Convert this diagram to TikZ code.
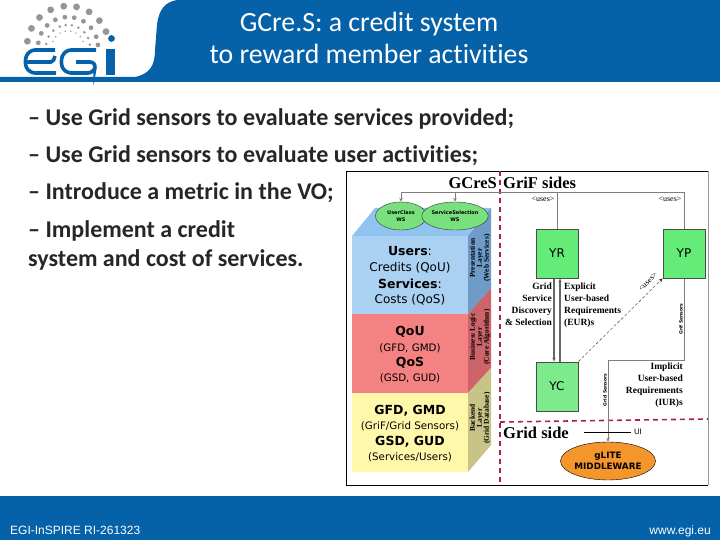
\documentclass[tikz,border=0pt]{standalone}
\usepackage{fontspec}
\setmainfont{Carlito}[Ligatures=NoCommon]
\newfontfamily\cubefont{DejaVu Sans}
\newfontfamily\notefont{Liberation Serif}
\newfontfamily\footfont{Liberation Sans}
\usetikzlibrary{arrows.meta,shapes.geometric,positioning}
\pgfdeclarelayer{front}
\pgfsetlayers{main,front}
\definecolor{egiblue}{RGB}{5,97,168}
\definecolor{dotgray}{RGB}{150,150,150}
\definecolor{linegray}{RGB}{125,125,125}
\definecolor{wsgreen}{RGB}{120,225,125}
\definecolor{yrgreen}{RGB}{100,235,120}
\definecolor{ycgreen}{RGB}{125,235,140}
\definecolor{glorange}{RGB}{245,150,45}
\definecolor{dashred}{RGB}{170,35,70}
\definecolor{cubetop}{RGB}{145,195,240}
\definecolor{cubeblue}{RGB}{170,208,242}
\definecolor{cubered}{RGB}{245,130,130}
\definecolor{cubeyellow}{RGB}{255,247,170}
\definecolor{sideblue}{RGB}{110,155,200}
\definecolor{sidered}{RGB}{205,100,105}
\definecolor{sideyellow}{RGB}{200,195,135}
\tikzset{
  titletext/.style={text=white, font=\fontsize{27.8}{32}\selectfont, align=center},
  bodytext/.style={anchor=base west, inner sep=0, text=black!85, font=\bfseries\fontsize{24}{29}\selectfont, align=left},
  foottext/.style={text=white, inner sep=0, font=\footfont\fontsize{12}{14}\selectfont},
  cubehead/.style={font=\cubefont\bfseries\fontsize{12.5}{16}\selectfont},
  cubesub/.style={font=\cubefont\fontsize{12}{15}\selectfont},
  cubesmall/.style={font=\cubefont\fontsize{10.3}{12}\selectfont},
  sidetext/.style={rotate=90, align=center, inner sep=0, font=\notefont\bfseries\fontsize{7.4}{7}\selectfont},
  sensortext/.style={rotate=90, inner sep=0, font=\cubefont\bfseries\fontsize{4.5}{6}\selectfont},
  notetext/.style={inner sep=0, font=\notefont\bfseries\fontsize{9.5}{11.9}\selectfont},
  greenbox/.style={draw=black!70, thick, minimum width=42, minimum height=49, inner sep=0, font=\cubefont\fontsize{12}{14}\selectfont},
  wsnode/.style={ellipse, draw=black!80, fill=wsgreen, minimum width=51, minimum height=28, inner sep=0, align=center, font=\cubefont\bfseries\fontsize{5}{7}\selectfont},
  sidehead/.style={inner sep=0, font=\notefont\bfseries\fontsize{16.5}{18}\selectfont},
  useslabel/.style={inner sep=0, font=\notefont\fontsize{8}{8}\selectfont},
  grayline/.style={draw=linegray, line width=0.9},
  redline/.style={draw=dashred, line width=1.6, dash pattern=on 5 off 4},
}
\begin{document}
\begin{tikzpicture}[x=1pt, y=-1pt]
  \useasboundingbox (0,0) rectangle (720,540);

  % Header
  \fill[egiblue] (0,77) -- (135,77) .. controls (150,74) and (155,65) .. (155,50)
     -- (157,25) .. controls (159,8) and (166,2) .. (177,0) -- (720,0) -- (720,82) -- (0,82) -- cycle;
  \fill[egiblue] (0,496) rectangle (720,540);

  % Logo dots
  \foreach \ang in {172,153,134,115,96,78,59,40,22}
    \fill[dotgray] (68,47) ++(-\ang:41) circle (3.4);
  \fill[egiblue] (111.5,38.5) circle (3.4);
  \foreach \ang in {172,153,134,115,96,78,59,40,20,4}
    \fill[dotgray] (68,47) ++(-\ang:30) circle (2.4);
  \foreach \ang in {172,152,132,112,96,80,62,42,24,6}
    \fill[dotgray] (68,47) ++(-\ang:22) circle (1.4);
  \foreach \ang in {160,140,120,100,80,60,40,20}
    \fill[dotgray] (68,47) ++(-\ang:16) circle (0.8);

  % Logo letters
  \draw[egiblue, line width=3.6, rounded corners=6] (55,50) -- (29,50) -- (24,62) -- (29,73) -- (56,73);
  \draw[egiblue, line width=3.6, rounded corners=2] (27,62) -- (53,62) -- (55,56);
  \draw[egiblue, line width=3.6, rounded corners=6] (96,50) -- (65,50) -- (60,62) -- (65,73) -- (94,73) -- (96,62) -- (76,62);
  \fill[egiblue] (106,49) rectangle (115,75);

  % Title
  \node[titletext] (title) at (369,38) {GCre.S: a credit system\\to reward member activities};

  % Text lines
  \node[bodytext] (line1) at (28,126) {-- Use Grid sensors to evaluate services provided;};
  \node[bodytext] (line2) at (28,163) {-- Use Grid sensors to evaluate user activities;};
  \node[bodytext] (line3) at (28,200) {-- Introduce a metric in the VO;};
  \node[bodytext] (line4) at (28,266) {-- Implement a credit\\system and cost of services.};

  % Footer
  \node[foottext, anchor=base west] (grant) at (10,534) {EGI-InSPIRE RI-261323};
  \node[foottext, anchor=base east] (site) at (711,534) {www.egi.eu};

  % Frame
  \fill[white] (346,171) rectangle (708,485);
  \draw[black!40] (708,171) -- (708,485);
  \draw[black, line width=0.9] (708,171) -- (346,171) -- (346,485) -- (708,485);

  % Cube
  \fill[cubetop] (352,236) -- (375,208) -- (491,208) -- (468,236) -- cycle;
  \fill[cubeblue] (352,236) rectangle (468,314);
  \fill[cubered] (352,314) rectangle (468,393);
  \fill[cubeyellow] (352,393) rectangle (468,472);
  \fill[sideblue] (468,236) -- (491,208) -- (491,288) -- (468,314) -- cycle;
  \fill[sidered] (468,314) -- (491,288) -- (491,368) -- (468,393) -- cycle;
  \fill[sideyellow] (468,393) -- (491,368) -- (491,445) -- (468,472) -- cycle;

  % Cube text
  \node[cubehead] (users) at (410,251) {Users\textmd{:}};
  \node[cubesub] (credits) at (410,268) {Credits (QoU)};
  \node[cubehead] (services) at (410,284) {Services\textmd{:}};
  \node[cubesub] (costs) at (410,300) {Costs (QoS)};
  \node[cubehead] (qou) at (410,332) {QoU};
  \node[cubesmall] (gfdsub) at (410,348) {(GFD, GMD)};
  \node[cubehead] (qos) at (410,363) {QoS};
  \node[cubesmall] (gsdsub) at (410,378) {(GSD, GUD)};
  \node[cubehead] (gfd) at (410,411) {GFD, GMD};
  \node[cubesmall] (sensors) at (410,426) {(GriF/Grid Sensors)};
  \node[cubehead] (gsd) at (410,442) {GSD, GUD};
  \node[cubesmall] (servusers) at (410,457) {(Services/Users)};

  % Side labels
  \node[sidetext] (present) at (480,258) {Presentation\\Layer\\(Web Services)};
  \node[sidetext] (logic) at (480,337) {Business Logic\\Layer\\(Core Algorithm)};
  \node[sidetext] (backend) at (480,418) {Backend\\Layer\\(Grid Database)};

  % Web services
  \node[wsnode] (userclass) at (401,216) {UserClass\\WS};
  \node[wsnode] (selection) at (455,216) {ServiceSelection\\WS};

  % Sides separator
  \coordinate (sepTop) at (500,171);
  \coordinate (sepMid) at (500,422);
  \coordinate (sepBot) at (500,485);
  \coordinate (sepEnd) at (708,419);
  \draw[redline] (sepTop) -- (sepBot);
  \draw[redline] (sepMid) -- (sepEnd);

  % Uses lines
  \coordinate (usesL) at (401,192);
  \coordinate (usesM) at (455,192);
  \coordinate (usesR) at (557,192);
  \coordinate (usesE) at (684,192);
  \draw[grayline] (usesL) -- (usesE);

  % Side titles
  \fill[white] (452,176) rectangle (497,191);
  \node[sidehead, anchor=base east] (gcres) at (497,189) {GCreS};
  \node[sidehead, anchor=base west] (grifside) at (503,189) {GriF sides};
  \node[sidehead, anchor=base west] (gridside) at (503,438) {Grid side};

  % Green boxes
  \begin{pgfonlayer}{front}
    \node[greenbox, fill=yrgreen] (yr) at (557,253.5) {YR};
    \node[greenbox, fill=yrgreen] (yp) at (684,253.5) {YP};
    \node[greenbox, fill=ycgreen] (yc) at (557,386.5) {YC};
  \end{pgfonlayer}
  \node[ellipse, draw=black, fill=glorange, minimum width=84, minimum height=38, inner sep=0, align=center,
     font=\cubefont\bfseries\fontsize{8.8}{11}\selectfont] (glite) at (608,461) {gLITE\\MIDDLEWARE};

  % Uses links
  \draw[grayline] (usesE) -- (yp.north);
  \draw[grayline, thin] (usesR) -- (yr.north);
  \draw[grayline, -{Stealth[length=4,width=3.5]}] (usesL) -- (userclass.north);
  \draw[grayline, -{Stealth[length=4,width=3.5]}] (usesM) -- (selection.north);
  \node[useslabel] (usesa) at (543,199) {<uses>};
  \node[useslabel] (usesb) at (670,199) {<uses>};

  % Box links
  \draw[grayline, line width=1.2, -{Stealth[length=4,width=3.5]}, black!60] ([xshift=-3]yr.south) -- ([xshift=-3]yc.north);
  \draw[grayline, line width=1.2, -{Stealth[length=4,width=3.5]}, black!60] ([xshift=3]yc.north) -- ([xshift=3]yr.south);
  \draw[densely dashed, black!80, line width=0.4, -{Stealth[length=4,width=3.5]}] (yc.north east) -- (yp.south west);
  \node[useslabel, rotate=45] (usesc) at (648,282) {<uses>};

  % Grid sensors line
  \coordinate (bendA) at (684,360);
  \coordinate (bendB) at (608,360);
  \draw[grayline, -{Stealth[length=4,width=3.5]}] (yp.south) -- (bendA) -- (bendB) -- (glite.north);
  \coordinate (uiL) at (584,432);
  \coordinate (uiR) at (631,432);
  \draw[black, line width=0.8] (uiL) -- (uiR);
  \node[useslabel, font=\cubefont\fontsize{7.5}{9}\selectfont, right=3pt of uiR] (ui) {UI};
  \node[sensortext] (gridsens) at (605,390) {Grid Sensors};
  \node[sensortext] (grifsens) at (681,319) {Grif Sensors};

  % Notes
  \node[notetext, align=right, anchor=north east] (discovery) at (552,283) {Grid\\Service\\Discovery\\\& Selection};
  \node[notetext, align=left, anchor=north west] (explicit) at (564,283) {Explicit\\User-based\\Requirements\\(EUR)s};
  \node[notetext, align=right, anchor=north east] (implicit) at (683,363) {Implicit\\User-based\\Requirements\\(IUR)s};
\end{tikzpicture}
\end{document}
